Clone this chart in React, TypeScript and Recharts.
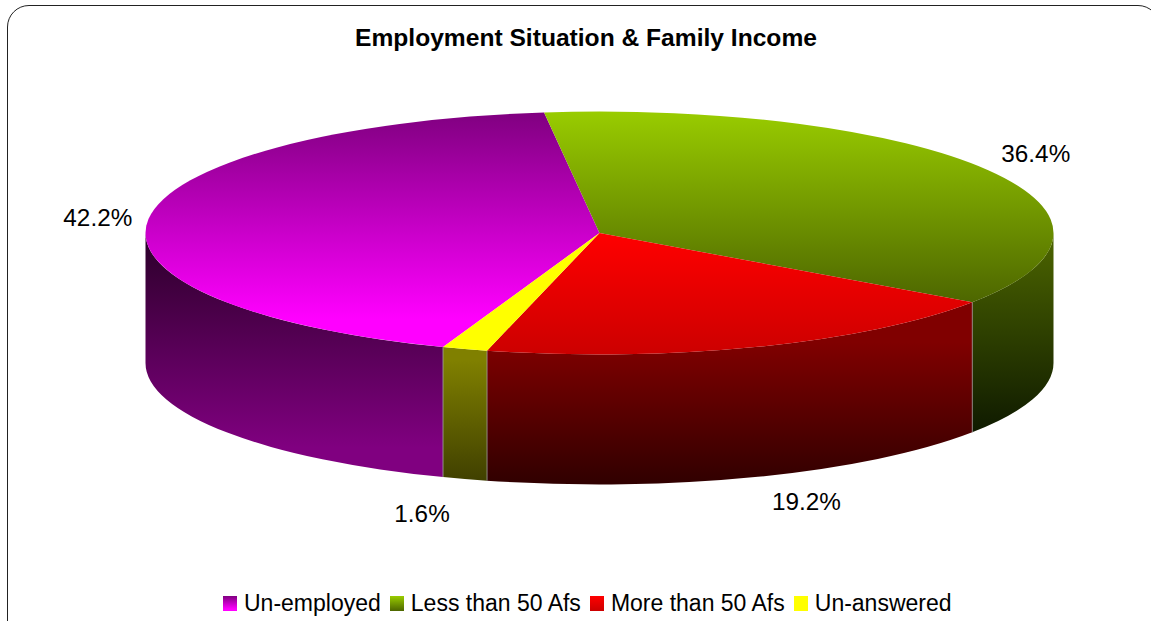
import { PieChart, Pie, Cell, Legend } from "recharts";

const categories = ["Un-employed", "Less than 50 Afs", "More than 50 Afs", "Un-answered"];
const shares = [42.2, 36.4, 19.2, 1.6];

// top face and outer wall gradients: [top colour, bottom colour, offset of top stop, offset of bottom stop]
const FACE_COLORS: [string, string, number, number][] = [
  ["#800080", "#ff00ff", 0, 0.88],
  ["#99cc00", "#4d6600", 0, 1],
  ["#ff0000", "#cc0000", 0, 1],
  ["#ffff00", "#ffff00", 0, 1],
];
const WALL_COLORS: [string, string, number, number][] = [
  ["#2a0028", "#800080", 0, 0.88],
  ["#4d6600", "#0f1a00", 0, 1],
  ["#800000", "#300000", 0.22, 1],
  ["#808000", "#404000", 0.1, 1],
];

// small corrections to the label spots, px
const LABEL_SHIFT_X = [1, 3, -4, 2];
const LABEL_SHIFT_Y = [2, 0, -5, 4];

const data = categories.map((name, i) => ({ name, value: shares[i] }));

const CX = 599.5;
const CY = 233;
const RX = 454;
const RY = 121.5;
const DEPTH = 130;
const FONT = "'Liberation Sans', Arial, sans-serif";

const px = (a: number) => CX + RX * Math.cos((a * Math.PI) / 180);
const py = (a: number) => CY - RY * Math.sin((a * Math.PI) / 180);

// the part of a slice that lies on the front half of the ellipse
function frontRange(lo: number, hi: number) {
  for (const [a, b] of [[-180, 0], [180, 360]]) {
    const from = Math.max(lo, a);
    const to = Math.min(hi, b);
    if (to > from) return [from, to];
  }
  return null;
}

function Slice3D(props: any) {
  const { startAngle, endAngle, index } = props;
  const hi = Math.max(startAngle, endAngle);
  const lo = Math.min(startAngle, endAngle);
  const large = hi - lo > 180 ? 1 : 0;
  const top = `M${CX},${CY} L${px(hi)},${py(hi)} A${RX},${RY} 0 ${large} 1 ${px(lo)},${py(lo)} Z`;
  const front = frontRange(lo, hi);
  let wall = null;
  if (front) {
    const [a, b] = front;
    const d =
      `M${px(b)},${py(b)} A${RX},${RY} 0 0 1 ${px(a)},${py(a)} ` +
      `L${px(a)},${py(a) + DEPTH} A${RX},${RY} 0 0 0 ${px(b)},${py(b) + DEPTH} Z`;
    const seams = [a, b].filter((v) => v % 180 !== 0);
    wall = (
      <g>
        <path d={d} fill={`url(#wall-${index})`} />
        {seams.map((v) => (
          <line key={v} x1={px(v)} y1={py(v)} x2={px(v)} y2={py(v) + DEPTH} stroke="#999" strokeOpacity={0.6} strokeWidth={1} />
        ))}
      </g>
    );
  }
  return (
    <g>
      {wall}
      <path d={top} fill={`url(#face-${index})`} />
    </g>
  );
}

function SliceLabel(props: any) {
  const { midAngle, value, index } = props;
  const rad = (midAngle * Math.PI) / 180;
  const isFront = Math.sin(rad) < 0;
  const x = CX + (isFront ? 605 : 506) * Math.cos(rad) + LABEL_SHIFT_X[index];
  const y = CY - 153 * Math.sin(rad) + (isFront ? DEPTH : 0) + LABEL_SHIFT_Y[index];
  return (
    <text x={x} y={y} textAnchor="middle" dominantBaseline="central" fontSize={24.3} fill="#000" fontFamily={FONT}>
      {value.toFixed(1)}%
    </text>
  );
}

function LegendRow({ payload }: any) {
  return (
    <div style={{ display: "flex", alignItems: "center", whiteSpace: "nowrap", fontFamily: FONT, fontSize: 23, color: "#000" }}>
      {(payload || []).map((entry: any) => (
        <div key={entry.value} style={{ display: "flex", alignItems: "center", marginRight: 9 }}>
          <svg width={14} height={15} style={{ marginRight: 7 }}>
            <rect width={14} height={15} fill={`url(#face-${categories.indexOf(entry.value)})`} />
          </svg>
          <span>{entry.value}</span>
        </div>
      ))}
    </div>
  );
}

export default function App() {
  return (
    <div style={{ position: "fixed", left: 0, top: 0, width: 1151, height: 621, overflow: "hidden", background: "#fff" }}>
      <div
        style={{
          position: "absolute",
          left: 7,
          top: 5,
          width: 1153,
          height: 680,
          border: "1.5px solid #222",
          borderRadius: 22,
          boxSizing: "border-box",
        }}
      />
      <PieChart width={1151} height={621} style={{ position: "absolute", left: 0, top: 0 }}>
        <defs>
          {FACE_COLORS.map(([a, b, from, to], i) => (
            <linearGradient key={i} id={`face-${i}`} x1="0" y1="0" x2="0" y2="1">
              <stop offset={from} stopColor={a} />
              <stop offset={to} stopColor={b} />
            </linearGradient>
          ))}
          {WALL_COLORS.map(([a, b, from, to], i) => (
            <linearGradient key={i} id={`wall-${i}`} x1="0" y1="0" x2="0" y2="1">
              <stop offset={from} stopColor={a} />
              <stop offset={to} stopColor={b} />
            </linearGradient>
          ))}
        </defs>
        <text x={586} y={46} textAnchor="middle" fontSize={24.6} fontWeight="bold" fontFamily={FONT} fill="#000">
          Employment Situation &amp; Family Income
        </text>
        <Pie
          data={data}
          dataKey="value"
          nameKey="name"
          cx={CX}
          cy={CY}
          outerRadius={RX}
          startAngle={249.85}
          endAngle={-110.15}
          stroke="none"
          paddingAngle={0}
          isAnimationActive={false}
          labelLine={false}
          label={SliceLabel}
          shape={Slice3D}
        >
          {data.map((entry, i) => (
            <Cell key={entry.name} fill={FACE_COLORS[i][1]} />
          ))}
        </Pie>
        <Legend content={LegendRow} itemSorter={null} wrapperStyle={{ left: 223, top: 590, width: "auto" }} />
      </PieChart>
    </div>
  );
}
